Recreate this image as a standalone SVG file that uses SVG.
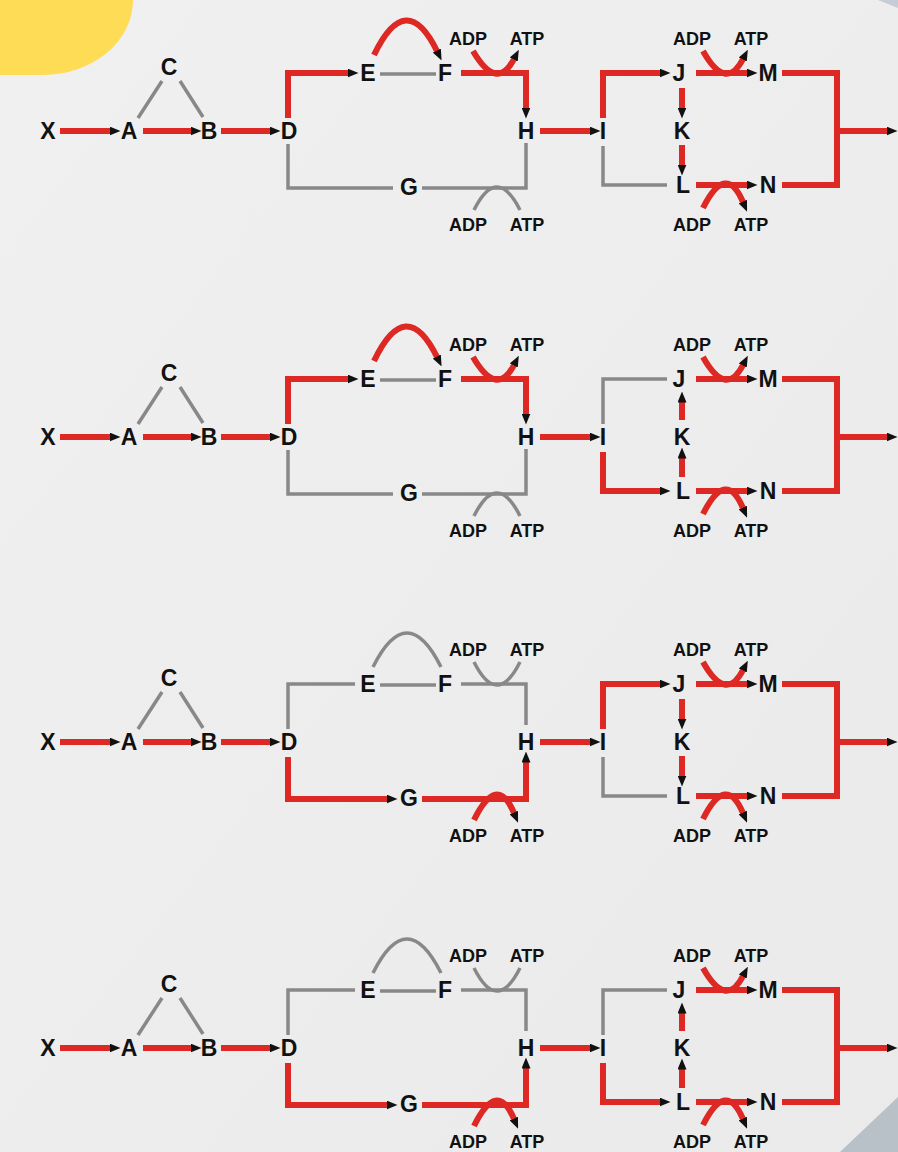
<svg xmlns="http://www.w3.org/2000/svg" width="898" height="1152" viewBox="0 0 898 1152">
<defs>
<linearGradient id="bg" x1="0" y1="0" x2="1" y2="1">
<stop offset="0" stop-color="#F0F0F0"/>
<stop offset="1" stop-color="#EAEAEA"/>
</linearGradient>
<marker id="ah" markerUnits="userSpaceOnUse" markerWidth="11" markerHeight="9" viewBox="0 0 11 9" refX="0.5" refY="4.5" orient="auto">
<path d="M0,0 L11,4.5 L0,9 z" fill="#111"/>
</marker>
<style>
.r{fill:none;stroke:#DD2824;stroke-width:6;stroke-linejoin:miter;stroke-linecap:butt}
.ra{fill:none;stroke:#DD2824;stroke-width:6;stroke-linejoin:miter;stroke-linecap:butt;marker-end:url(#ah)}
.g{fill:none;stroke:#888888;stroke-width:3.5;stroke-linejoin:miter}
.n{font-family:"Liberation Sans",Arial,sans-serif;font-weight:bold;font-size:23px;fill:#111;text-anchor:middle}
.s{font-family:"Liberation Sans",Arial,sans-serif;font-weight:bold;font-size:18px;fill:#111;text-anchor:middle}
</style>
</defs>
<rect width="898" height="1152" fill="url(#bg)"/>
<path d="M0,0 H133 A90,75 0 0 1 43,75 H0 Z" fill="#FFDC56"/>
<path d="M878,0 H898 V8 Z" fill="#C5CCD3"/>
<path d="M840,1152 L898,1097 V1152 Z" fill="#B8C0C8"/>

<!-- Panel 1 -->
<g id="panel1">
<g id="p1-connectors">
<path class="ra" d="M60,131 H110"/>
<path class="ra" d="M143,131 H191"/>
<path class="ra" d="M221,131 H270"/>
<path class="g" d="M138,118 L162,81 M180,81 L203,117"/>
<path class="ra" d="M288,118 V73 H348"/>
<path class="g" d="M380,74 H436"/>
<path class="ra" d="M374,55 Q406,-12 437,51"/>
<path class="ra" d="M461,73 H526 V108"/>
<path class="ra" d="M473,51 Q497,92 514,59"/>
<path class="g" d="M288,144 V188 H393 M422,188 H526 V143"/>
<path class="g" d="M474,210 Q497,164 520,210"/>
<path class="ra" d="M540,131 H590"/>
<path class="ra" d="M603,118 V73 H660"/>
<path class="g" d="M603,146 V185 H667"/>
<path class="ra" d="M682,88 V108"/>
<path class="ra" d="M682,145 V165"/>
<path class="ra" d="M696,73 H747"/>
<path class="ra" d="M703,51 Q726,92 743,59"/>
<path class="ra" d="M696,185 H747"/>
<path class="ra" d="M703,208 Q726,162 743,202"/>
<path class="r" d="M782,73 H837 V185 H782"/>
<path class="ra" d="M837,131 H887"/>
</g>
<g id="p1-X"><text class="n" x="48" y="139">X</text></g>
<g id="p1-A"><text class="n" x="129" y="139">A</text></g>
<g id="p1-B"><text class="n" x="209" y="139">B</text></g>
<g id="p1-C"><text class="n" x="169" y="75">C</text></g>
<g id="p1-D"><text class="n" x="289" y="139">D</text></g>
<g id="p1-E"><text class="n" x="368" y="81">E</text></g>
<g id="p1-F"><text class="n" x="445" y="81">F</text></g>
<g id="p1-G"><text class="n" x="409" y="195">G</text></g>
<g id="p1-H"><text class="n" x="526" y="139">H</text></g>
<g id="p1-I"><text class="n" x="603" y="139">I</text></g>
<g id="p1-J"><text class="n" x="679" y="81">J</text></g>
<g id="p1-K"><text class="n" x="682" y="139">K</text></g>
<g id="p1-L"><text class="n" x="683" y="193">L</text></g>
<g id="p1-M"><text class="n" x="768" y="81">M</text></g>
<g id="p1-N"><text class="n" x="768" y="193">N</text></g>
<g id="p1-labels">
<text class="s" x="468" y="45">ADP</text><text class="s" x="527" y="45">ATP</text>
<text class="s" x="468" y="231">ADP</text><text class="s" x="527" y="231">ATP</text>
<text class="s" x="692" y="45">ADP</text><text class="s" x="751" y="45">ATP</text>
<text class="s" x="692" y="231">ADP</text><text class="s" x="751" y="231">ATP</text>
</g>
</g>

<!-- Panel 2 -->
<g id="panel2" transform="translate(0,306)">
<g id="p2-connectors">
<path class="ra" d="M60,131 H110"/>
<path class="ra" d="M143,131 H191"/>
<path class="ra" d="M221,131 H270"/>
<path class="g" d="M138,118 L162,81 M180,81 L203,117"/>
<path class="ra" d="M288,118 V73 H348"/>
<path class="g" d="M380,74 H436"/>
<path class="ra" d="M374,55 Q406,-12 437,51"/>
<path class="ra" d="M461,73 H526 V108"/>
<path class="ra" d="M473,51 Q497,92 514,59"/>
<path class="g" d="M288,144 V188 H393 M422,188 H526 V143"/>
<path class="g" d="M474,210 Q497,164 520,210"/>
<path class="ra" d="M540,131 H590"/>
<path class="g" d="M603,118 V73 H667"/>
<path class="ra" d="M603,146 V185 H660"/>
<path class="ra" d="M682,114 V96"/>
<path class="ra" d="M682,171 V152"/>
<path class="ra" d="M696,73 H747"/>
<path class="ra" d="M703,51 Q726,92 743,59"/>
<path class="ra" d="M696,185 H747"/>
<path class="ra" d="M703,208 Q726,162 743,202"/>
<path class="r" d="M782,73 H837 V185 H782"/>
<path class="ra" d="M837,131 H887"/>
</g>
<g id="p2-X"><text class="n" x="48" y="139">X</text></g>
<g id="p2-A"><text class="n" x="129" y="139">A</text></g>
<g id="p2-B"><text class="n" x="209" y="139">B</text></g>
<g id="p2-C"><text class="n" x="169" y="75">C</text></g>
<g id="p2-D"><text class="n" x="289" y="139">D</text></g>
<g id="p2-E"><text class="n" x="368" y="81">E</text></g>
<g id="p2-F"><text class="n" x="445" y="81">F</text></g>
<g id="p2-G"><text class="n" x="409" y="195">G</text></g>
<g id="p2-H"><text class="n" x="526" y="139">H</text></g>
<g id="p2-I"><text class="n" x="603" y="139">I</text></g>
<g id="p2-J"><text class="n" x="679" y="81">J</text></g>
<g id="p2-K"><text class="n" x="682" y="139">K</text></g>
<g id="p2-L"><text class="n" x="683" y="193">L</text></g>
<g id="p2-M"><text class="n" x="768" y="81">M</text></g>
<g id="p2-N"><text class="n" x="768" y="193">N</text></g>
<g id="p2-labels">
<text class="s" x="468" y="45">ADP</text><text class="s" x="527" y="45">ATP</text>
<text class="s" x="468" y="231">ADP</text><text class="s" x="527" y="231">ATP</text>
<text class="s" x="692" y="45">ADP</text><text class="s" x="751" y="45">ATP</text>
<text class="s" x="692" y="231">ADP</text><text class="s" x="751" y="231">ATP</text>
</g>
</g>

<!-- Panel 3 -->
<g id="panel3" transform="translate(0,611)">
<g id="p3-connectors">
<path class="ra" d="M60,131 H110"/>
<path class="ra" d="M143,131 H191"/>
<path class="ra" d="M221,131 H270"/>
<path class="g" d="M138,118 L162,81 M180,81 L203,117"/>
<path class="g" d="M288,118 V73 H355"/>
<path class="g" d="M380,74 H436"/>
<path class="g" d="M373,56 Q407,-12 441,56"/>
<path class="g" d="M461,73 H526 V114"/>
<path class="g" d="M474,51 Q497,97 520,51"/>
<path class="ra" d="M288,146 V188 H387"/>
<path class="ra" d="M422,188 H526 V151"/>
<path class="ra" d="M474,209 Q497,162 514,202"/>
<path class="ra" d="M540,131 H590"/>
<path class="ra" d="M603,118 V73 H660"/>
<path class="g" d="M603,146 V185 H667"/>
<path class="ra" d="M682,88 V108"/>
<path class="ra" d="M682,145 V165"/>
<path class="ra" d="M696,73 H747"/>
<path class="ra" d="M703,51 Q726,92 743,59"/>
<path class="ra" d="M696,185 H747"/>
<path class="ra" d="M703,208 Q726,162 743,202"/>
<path class="r" d="M782,73 H837 V185 H782"/>
<path class="ra" d="M837,131 H887"/>
</g>
<g id="p3-X"><text class="n" x="48" y="139">X</text></g>
<g id="p3-A"><text class="n" x="129" y="139">A</text></g>
<g id="p3-B"><text class="n" x="209" y="139">B</text></g>
<g id="p3-C"><text class="n" x="169" y="75">C</text></g>
<g id="p3-D"><text class="n" x="289" y="139">D</text></g>
<g id="p3-E"><text class="n" x="368" y="81">E</text></g>
<g id="p3-F"><text class="n" x="445" y="81">F</text></g>
<g id="p3-G"><text class="n" x="409" y="195">G</text></g>
<g id="p3-H"><text class="n" x="526" y="139">H</text></g>
<g id="p3-I"><text class="n" x="603" y="139">I</text></g>
<g id="p3-J"><text class="n" x="679" y="81">J</text></g>
<g id="p3-K"><text class="n" x="682" y="139">K</text></g>
<g id="p3-L"><text class="n" x="683" y="193">L</text></g>
<g id="p3-M"><text class="n" x="768" y="81">M</text></g>
<g id="p3-N"><text class="n" x="768" y="193">N</text></g>
<g id="p3-labels">
<text class="s" x="468" y="45">ADP</text><text class="s" x="527" y="45">ATP</text>
<text class="s" x="468" y="231">ADP</text><text class="s" x="527" y="231">ATP</text>
<text class="s" x="692" y="45">ADP</text><text class="s" x="751" y="45">ATP</text>
<text class="s" x="692" y="231">ADP</text><text class="s" x="751" y="231">ATP</text>
</g>
</g>

<!-- Panel 4 -->
<g id="panel4" transform="translate(0,917)">
<g id="p4-connectors">
<path class="ra" d="M60,131 H110"/>
<path class="ra" d="M143,131 H191"/>
<path class="ra" d="M221,131 H270"/>
<path class="g" d="M138,118 L162,81 M180,81 L203,117"/>
<path class="g" d="M288,118 V73 H355"/>
<path class="g" d="M380,74 H436"/>
<path class="g" d="M373,56 Q407,-12 441,56"/>
<path class="g" d="M461,73 H526 V114"/>
<path class="g" d="M474,51 Q497,97 520,51"/>
<path class="ra" d="M288,146 V188 H387"/>
<path class="ra" d="M422,188 H526 V151"/>
<path class="ra" d="M474,209 Q497,162 514,202"/>
<path class="ra" d="M540,131 H590"/>
<path class="g" d="M603,118 V73 H667"/>
<path class="ra" d="M603,146 V185 H660"/>
<path class="ra" d="M682,114 V96"/>
<path class="ra" d="M682,171 V152"/>
<path class="ra" d="M696,73 H747"/>
<path class="ra" d="M703,51 Q726,92 743,59"/>
<path class="ra" d="M696,185 H747"/>
<path class="ra" d="M703,208 Q726,162 743,202"/>
<path class="r" d="M782,73 H837 V185 H782"/>
<path class="ra" d="M837,131 H887"/>
</g>
<g id="p4-X"><text class="n" x="48" y="139">X</text></g>
<g id="p4-A"><text class="n" x="129" y="139">A</text></g>
<g id="p4-B"><text class="n" x="209" y="139">B</text></g>
<g id="p4-C"><text class="n" x="169" y="75">C</text></g>
<g id="p4-D"><text class="n" x="289" y="139">D</text></g>
<g id="p4-E"><text class="n" x="368" y="81">E</text></g>
<g id="p4-F"><text class="n" x="445" y="81">F</text></g>
<g id="p4-G"><text class="n" x="409" y="195">G</text></g>
<g id="p4-H"><text class="n" x="526" y="139">H</text></g>
<g id="p4-I"><text class="n" x="603" y="139">I</text></g>
<g id="p4-J"><text class="n" x="679" y="81">J</text></g>
<g id="p4-K"><text class="n" x="682" y="139">K</text></g>
<g id="p4-L"><text class="n" x="683" y="193">L</text></g>
<g id="p4-M"><text class="n" x="768" y="81">M</text></g>
<g id="p4-N"><text class="n" x="768" y="193">N</text></g>
<g id="p4-labels">
<text class="s" x="468" y="45">ADP</text><text class="s" x="527" y="45">ATP</text>
<text class="s" x="468" y="231">ADP</text><text class="s" x="527" y="231">ATP</text>
<text class="s" x="692" y="45">ADP</text><text class="s" x="751" y="45">ATP</text>
<text class="s" x="692" y="231">ADP</text><text class="s" x="751" y="231">ATP</text>
</g>
</g>
</svg>
